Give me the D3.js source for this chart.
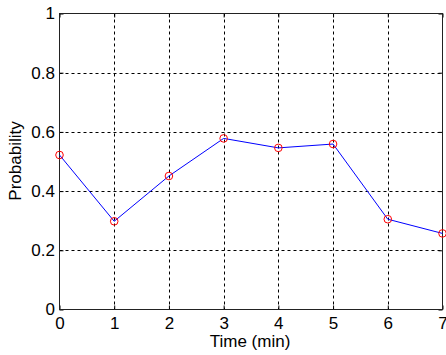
<!DOCTYPE html>
<html><head><meta charset="utf-8">
<script src="https://cdn.jsdelivr.net/npm/d3@7"></script>
<style>body{margin:0;background:#fff}svg{display:block}</style>
</head><body><svg id="c" width="446" height="355"></svg>
<script>
const times = [0, 1, 2, 3, 4, 5, 6, 7];
const probability = [0.522, 0.298, 0.451, 0.578, 0.546, 0.559, 0.305, 0.257];
const xTicks = [0, 1, 2, 3, 4, 5, 6, 7];
const yTicks = [0, 0.2, 0.4, 0.6, 0.8, 1];

const svg = d3.select('#c');
const L = 59.5, R = 442.5, T = 13.5, B = 309.5;
const x = d3.scaleLinear().domain([0, 7]).range([L, R]);
const y = d3.scaleLinear().domain([0, 1]).range([B, T]);
const font = 'Liberation Sans, Arial, sans-serif';
const fs = 17;

// grid
const g = svg.append('g');
g.selectAll('.vg').data(xTicks.slice(1, -1)).enter().append('line')
  .attr('x1', d => Math.round(x(d)) + 0.5).attr('x2', d => Math.round(x(d)) + 0.5)
  .attr('y1', T).attr('y2', B)
  .attr('stroke', '#000').attr('stroke-width', 1).attr('stroke-dasharray', '3,3');
g.selectAll('.hg').data(yTicks.slice(1, -1)).enter().append('line')
  .attr('y1', d => Math.round(y(d)) + 0.5).attr('y2', d => Math.round(y(d)) + 0.5)
  .attr('x1', L).attr('x2', R)
  .attr('stroke', '#000').attr('stroke-width', 1).attr('stroke-dasharray', '3,3');

// axes
const xa = svg.append('g').attr('transform', `translate(0,${B})`)
  .call(d3.axisBottom(x).tickValues(xTicks).tickFormat(d3.format('d')).tickSize(-4).tickPadding(7));
const ya = svg.append('g').attr('transform', `translate(${L},0)`)
  .call(d3.axisLeft(y).tickValues(yTicks).tickFormat(d => d === 0 || d === 1 ? String(d) : d3.format('.1f')(d)).tickSize(-4).tickPadding(4.5));
[xa, ya].forEach(a => {
  a.select('.domain').remove();
  a.selectAll('line').attr('stroke', '#000');
  a.selectAll('text').attr('font-family', font).attr('font-size', fs).attr('fill', '#000');
});
// top/right ticks
svg.append('g').attr('transform', `translate(0,${T})`)
  .call(d3.axisTop(x).tickValues(xTicks).tickFormat('').tickSize(-4))
  .call(a => { a.select('.domain').remove(); a.selectAll('line').attr('stroke', '#000'); });
svg.append('g').attr('transform', `translate(${R},0)`)
  .call(d3.axisRight(y).tickValues(yTicks).tickFormat('').tickSize(-4))
  .call(a => { a.select('.domain').remove(); a.selectAll('line').attr('stroke', '#000'); });

// frame
svg.append('rect').attr('x', L).attr('y', T).attr('width', R - L).attr('height', B - T)
  .attr('fill', 'none').attr('stroke', '#222').attr('stroke-width', 1);

// line
const pts = times.map((t, i) => [t, probability[i]]);
svg.append('path').datum(pts)
  .attr('d', d3.line().x(d => x(d[0])).y(d => y(d[1])))
  .attr('fill', 'none').attr('stroke', '#0000ff').attr('stroke-width', 1);
svg.selectAll('.m').data(pts).enter().append('circle')
  .attr('cx', d => x(d[0])).attr('cy', d => y(d[1])).attr('r', 3.8)
  .attr('fill', 'none').attr('stroke', '#ff0000').attr('stroke-width', 1);

// labels
svg.append('text').attr('x', 250).attr('y', 347).attr('text-anchor', 'middle')
  .attr('font-family', font).attr('font-size', fs).text('Time (min)');
svg.append('text').attr('transform', `translate(21,161) rotate(-90)`).attr('text-anchor', 'middle')
  .attr('font-family', font).attr('font-size', fs).text('Probability');
</script></body></html>
